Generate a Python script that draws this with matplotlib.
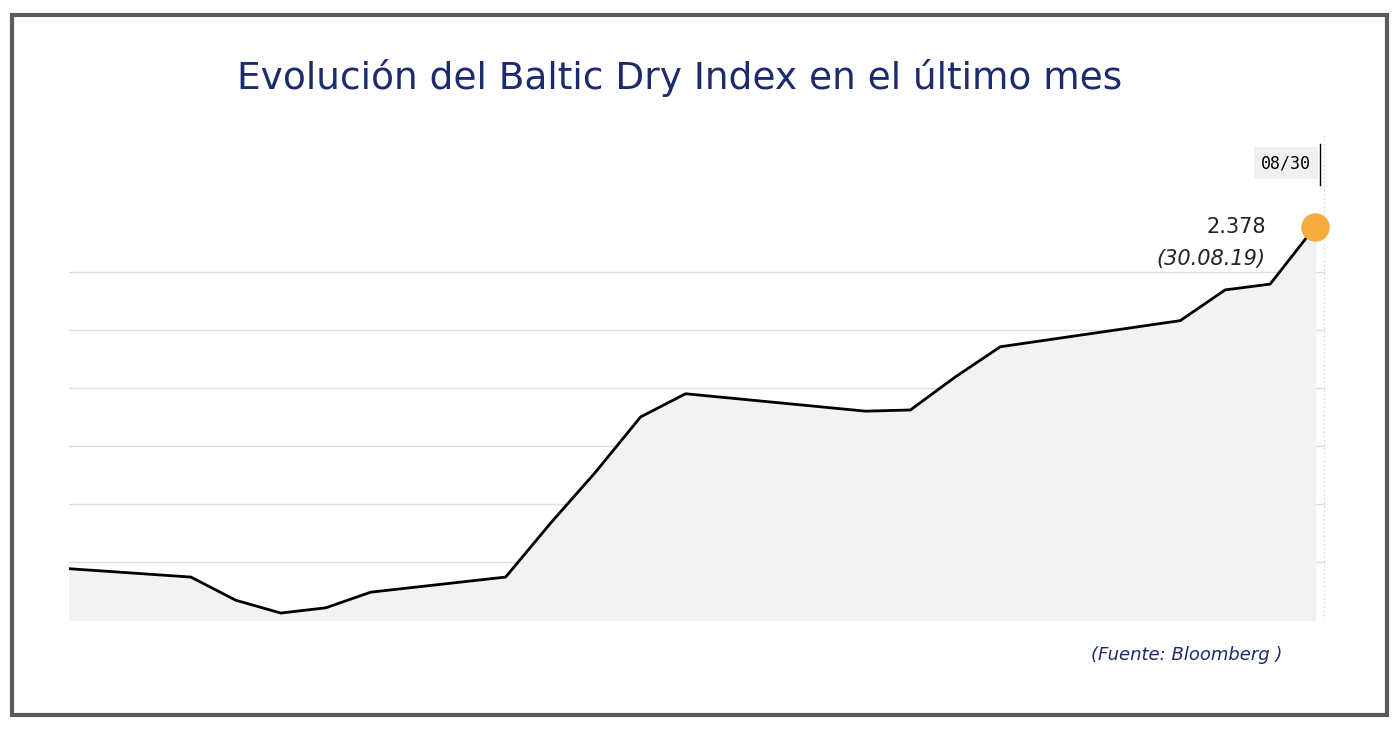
import matplotlib
matplotlib.use("Agg")
import matplotlib.pyplot as plt
from matplotlib.patches import Rectangle

days = [2, 5, 6, 7, 8, 9, 12, 13, 14, 15, 16, 20, 21, 22, 23, 27, 28, 29, 30]
values = [1790, 1774, 1734, 1712, 1721, 1748, 1774, 1867, 1955, 2050, 2090,
          2060, 2062, 2119, 2171, 2216, 2269, 2279, 2378]
grid_vals = [1800, 1900, 2000, 2100, 2200, 2300]

W, H = 1400, 729
fig = plt.figure(figsize=(14, 7.29), dpi=100)
fig.patches.append(Rectangle((12/W, 14/H), 1375/W, 700/H, transform=fig.transFigure,
                             fill=False, edgecolor="#5a5a5a", linewidth=3))
ax = fig.add_axes([69/W, (H-620)/H, (1325-69)/W, 485/H])
ax.set_xlim(2.29, 30.22)
ax.set_ylim(1700, 2536)
for g in grid_vals:
    ax.axhline(g, color="#dddddd", linewidth=1, zorder=0)
ax.fill_between(days, values, 1700, color="#f2f2f2", zorder=1)
ax.plot(days, values, color="black", linewidth=2, zorder=3)
ax.axvline(30.22, color="black", linestyle=(0, (1, 2)), linewidth=1, zorder=2)
ax.plot([30.1, 30.1], [2450, 2520], color="black", linewidth=1)
ax.scatter([days[-1]], [values[-1]], s=380, color="#f4ac3c", zorder=4, clip_on=False)
ax.text(28.9, values[-1], "2.378", ha="right", va="center", fontsize=15,
        color="#222222")
ax.text(28.9, values[-1]-55, "(30.08.19)", ha="right", va="center", fontsize=15,
        style="italic", color="#222222")
ax.text(29.9, 2487, "08/30", ha="right", va="center", fontsize=12,
        family="DejaVu Sans Mono",
        bbox=dict(facecolor="#f0f0f0", edgecolor="none", pad=5))
for s in ax.spines.values():
    s.set_visible(False)
ax.set_xticks([]); ax.set_yticks([])
fig.text(680/W, 1-78/H, "Evolución del Baltic Dry Index en el último mes",
         ha="center", va="center", fontsize=27, color="#1c2a6e")
fig.text(1282/W, 1-655/H, "(Fuente: Bloomberg )", ha="right", va="center",
         fontsize=13, style="italic", color="#1c2a6e")
fig.savefig("out.png", dpi=100)
